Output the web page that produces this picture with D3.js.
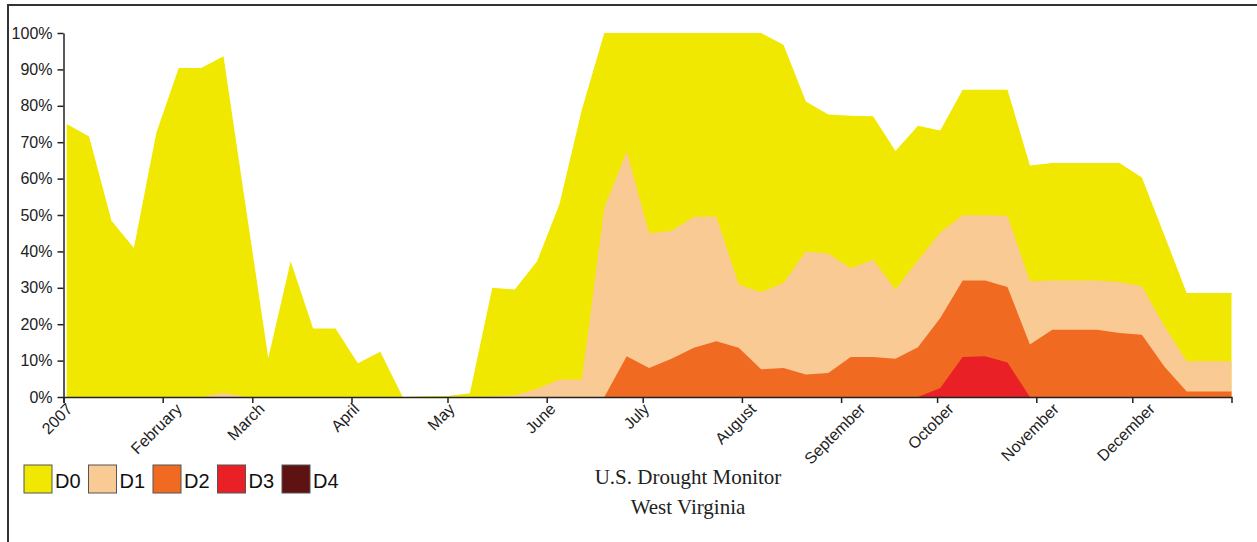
<!DOCTYPE html>
<html>
<head>
<meta charset="utf-8">
<script src="https://cdn.jsdelivr.net/npm/d3@7"></script>
<style>
  html, body { margin: 0; padding: 0; background: #fff; }
  svg { display: block; }
  .axis text { font-family: "Liberation Sans", Arial, sans-serif; font-size: 16px; fill: #222; }
  .axis path, .axis line { stroke: #222; stroke-width: 1.5; }
</style>
</head>
<body>
<svg id="chart" width="1257" height="542"></svg>
<script>
// Weekly U.S. Drought Monitor dates (Tuesdays)
const weeks = [
  "2007-01-02","2007-01-09","2007-01-16","2007-01-23","2007-01-30",
  "2007-02-06","2007-02-13","2007-02-20","2007-02-27",
  "2007-03-06","2007-03-13","2007-03-20","2007-03-27",
  "2007-04-03","2007-04-10","2007-04-17","2007-04-24",
  "2007-05-01","2007-05-08","2007-05-15","2007-05-22","2007-05-29",
  "2007-06-05","2007-06-12","2007-06-19","2007-06-26",
  "2007-07-03","2007-07-10","2007-07-17","2007-07-24","2007-07-31",
  "2007-08-07","2007-08-14","2007-08-21","2007-08-28",
  "2007-09-04","2007-09-11","2007-09-18","2007-09-25",
  "2007-10-02","2007-10-09","2007-10-16","2007-10-23","2007-10-30",
  "2007-11-06","2007-11-13","2007-11-20","2007-11-27",
  "2007-12-04","2007-12-11","2007-12-18","2007-12-25",
  "2008-01-01"
];

// Cumulative percent of area (D0 = D0-D4, D1 = D1-D4, ...)
const d0 = [75.0,71.6,48.4,40.9,72.5,90.4,90.4,93.6,52.0,10.7,
            37.3,18.8,18.8,9.3,12.4,0,0.2,0.3,1.0,30.0,
            29.5,37.3,53.0,79.0,100,100,100,100,100,100,
            100,100,96.8,81.2,77.6,77.3,77.1,67.6,74.5,73.2,
            84.4,84.4,84.4,63.6,64.3,64.3,64.3,64.3,60.3,44.5,
            28.6,28.6,28.6];
const d1 = [0,0,0,0,0,0,0,1.2,0,0,
            0,0,0,0,0,0,0,0,0,0.2,
            0.5,2.3,4.8,4.8,52.0,67.5,45.0,45.7,49.5,49.6,
            30.9,28.8,31.3,40.0,39.4,35.4,37.7,29.5,37.5,45.2,
            49.9,49.9,49.8,31.8,32.0,32.0,32.0,31.6,30.4,19.5,
            9.8,9.8,9.8];
const d2 = [0,0,0,0,0,0,0,0,0,0,
            0,0,0,0,0,0,0,0,0,0,
            0,0,0,0,0,11.2,8.0,10.5,13.5,15.3,
            13.5,7.6,8.0,6.2,6.6,11.0,11.0,10.5,13.7,21.7,
            32.0,32.0,30.2,14.4,18.5,18.5,18.5,17.6,17.1,8.4,
            1.5,1.5,1.5];
const d3v = [0,0,0,0,0,0,0,0,0,0,
             0,0,0,0,0,0,0,0,0,0,
             0,0,0,0,0,0,0,0,0,0,
             0,0,0,0,0,0,0,0,0,2.5,
             11.0,11.2,9.5,0,0,0,0,0,0,0,
             0,0,0];
const d4 = [0,0,0,0,0,0,0,0,0,0,
            0,0,0,0,0,0,0,0,0,0,
            0,0,0,0,0,0,0,0,0,0,
            0,0,0,0,0,0,0,0,0,0,
            0,0,0,0,0,0,0,0,0,0,
            0,0,0];

const categories = ["D0","D1","D2","D3","D4"];
const seriesValues = [d0, d1, d2, d3v, d4];
const colors = ["#f0e800","#f9ca94","#f16a22","#ea2027","#5e1212"];
const yTicks = [0,10,20,30,40,50,60,70,80,90,100];
const titleLines = ["U.S. Drought Monitor","West Virginia"];

const svg = d3.select("#chart");
const parse = d3.utcParse("%Y-%m-%d");
const dates = weeks.map(parse);

// frame
svg.append("rect").attr("x", 8).attr("y", 5).attr("width", 1300).attr("height", 600)
  .attr("fill", "none").attr("stroke", "#333").attr("stroke-width", 2);

const x = d3.scaleUtc()
  .domain([parse("2007-01-01"), parse("2008-01-01")])
  .range([63.5, 1231.5]);
const y = d3.scaleLinear().domain([0, 100]).range([397, 33]);

const area = d3.area()
  .x(d => x(d.date))
  .y0(y(0))
  .y1(d => y(d.v));

seriesValues.forEach((vals, k) => {
  const pts = vals.map((v, i) => ({date: dates[i], v}));
  svg.append("path").datum(pts)
    .attr("fill", colors[k])
    .attr("d", area);
});

// y axis
svg.append("g").attr("class", "axis")
  .attr("transform", `translate(${x.range()[0]},0)`)
  .call(d3.axisLeft(y).tickValues(yTicks).tickFormat(d => d + "%").tickSize(6).tickSizeOuter(0).tickPadding(5));

// x axis
const monthTicks = d3.utcMonth.range(parse("2007-01-01"), parse("2008-01-01"));
const fmt = x.tickFormat();
const xg = svg.append("g").attr("class", "axis")
  .attr("transform", `translate(0,${y(0)})`)
  .call(d3.axisBottom(x).tickValues(monthTicks).tickFormat(fmt).tickSize(6).tickSizeOuter(6));
xg.selectAll(".tick text")
  .attr("text-anchor", "end")
  .attr("x", 0).attr("y", 0).attr("dy", 0)
  .each(function() {
    const L = this.getComputedTextLength();
    d3.select(this).attr("transform", `translate(${-3 + 0.354 * L},13) rotate(-45)`);
  });

// legend
const lg = svg.append("g").attr("transform", "translate(24,465)");
categories.forEach((c, k) => {
  const g = lg.append("g").attr("transform", `translate(${k * 64.5},0)`);
  g.append("rect").attr("width", 28).attr("height", 28)
    .attr("fill", colors[k]).attr("stroke", "#555").attr("stroke-width", 1);
  g.append("text").attr("x", 31).attr("y", 23)
    .attr("font-family", "Liberation Sans, Arial, sans-serif").attr("font-size", 20)
    .attr("fill", "#111").text(c);
});

// title
titleLines.forEach((t, i) => {
  svg.append("text").attr("x", 688).attr("y", 484 + i * 30)
    .attr("text-anchor", "middle")
    .attr("font-family", "Liberation Serif, Times New Roman, serif").attr("font-size", 21)
    .attr("fill", "#222").text(t);
});
</script>
</body>
</html>
